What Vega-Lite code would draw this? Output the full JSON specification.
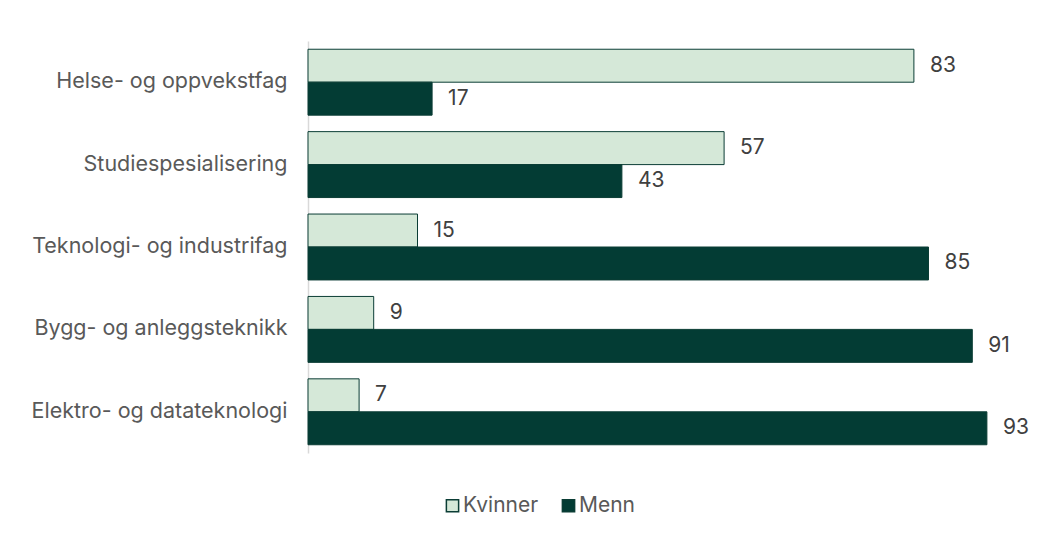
{
  "$schema": "https://vega.github.io/schema/vega-lite/v6.json",
  "width": 730,
  "height": 412,
  "autosize": {"type": "none"},
  "padding": {"left": 308, "top": 41, "right": 18, "bottom": 82},
  "background": "white",
  "config": {
    "view": {"stroke": null},
    "font": "Inter",
    "text": {"font": "Inter"}
  },
  "data": {
    "values": [
      {"fag": "Helse- og oppvekstfag", "kjonn": "Kvinner", "andel": 83},
      {"fag": "Helse- og oppvekstfag", "kjonn": "Menn", "andel": 17},
      {"fag": "Studiespesialisering", "kjonn": "Kvinner", "andel": 57},
      {"fag": "Studiespesialisering", "kjonn": "Menn", "andel": 43},
      {"fag": "Teknologi- og industrifag", "kjonn": "Kvinner", "andel": 15},
      {"fag": "Teknologi- og industrifag", "kjonn": "Menn", "andel": 85},
      {"fag": "Bygg- og anleggsteknikk", "kjonn": "Kvinner", "andel": 9},
      {"fag": "Bygg- og anleggsteknikk", "kjonn": "Menn", "andel": 91},
      {"fag": "Elektro- og datateknologi", "kjonn": "Kvinner", "andel": 7},
      {"fag": "Elektro- og datateknologi", "kjonn": "Menn", "andel": 93}
    ]
  },
  "encoding": {
    "y": {
      "field": "fag",
      "type": "nominal",
      "sort": null,
      "title": null,
      "scale": {"paddingInner": 0.2, "paddingOuter": 0.1},
      "axis": {
        "domain": true,
        "domainColor": "#d9d9d9",
        "domainWidth": 1.5,
        "ticks": false,
        "labelPadding": 21,
        "labelFontSize": 21.5,
        "labelColor": "#595959",
        "labelFont": "Inter",
        "labelLimit": 400
      }
    },
    "yOffset": {"field": "kjonn", "type": "nominal", "sort": ["Kvinner", "Menn"]},
    "x": {
      "field": "andel",
      "type": "quantitative",
      "scale": {"domain": [0, 100]},
      "axis": null
    }
  },
  "layer": [
    {
      "mark": {"type": "bar", "stroke": "#0b3d35", "strokeWidth": 1},
      "encoding": {
        "color": {
          "field": "kjonn",
          "type": "nominal",
          "sort": ["Kvinner", "Menn"],
          "title": null,
          "scale": {"domain": ["Kvinner", "Menn"], "range": ["#d5e8d8", "#033c34"]},
          "legend": {
            "orient": "none",
            "direction": "horizontal",
            "legendX": 134,
            "legendY": 454,
            "symbolType": "square",
            "symbolSize": 150,
            "symbolStrokeColor": "#0b3d35",
            "symbolStrokeWidth": 1.5,
            "labelFontSize": 21,
            "labelColor": "#595959",
            "labelFont": "Inter",
            "labelOffset": 0,
            "columnPadding": 19
          }
        }
      }
    },
    {
      "mark": {
        "type": "text",
        "align": "left",
        "baseline": "middle",
        "dx": 16,
        "fontSize": 21,
        "color": "#404040",
        "font": "Inter"
      },
      "encoding": {
        "text": {"field": "andel", "type": "quantitative"}
      }
    }
  ]
}
